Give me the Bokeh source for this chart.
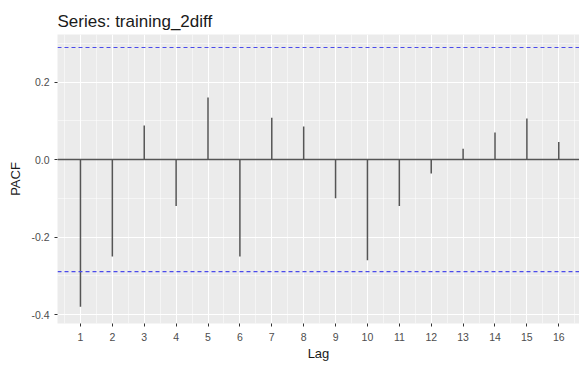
from bokeh.plotting import figure
from bokeh.models import Range1d, FixedTicker, Span
from bokeh.embed import file_html
from bokeh.resources import INLINE

lags = list(range(1, 17))
pacf = [-0.38, -0.25, 0.088, -0.12, 0.16, -0.25, 0.108, 0.085,
        -0.10, -0.26, -0.12, -0.036, 0.028, 0.07, 0.106, 0.045]
ci = 0.289
y_ticks = [-0.4, -0.2, 0.0, 0.2]
y_minor = [-0.3, -0.1, 0.1, 0.3]
x_minor = [x + 0.5 for x in range(0, 17)]

FONT = "Liberation Sans"

p = figure(width=579, height=365, output_backend="svg", toolbar_location=None,
           x_range=Range1d(0.28, 16.65), y_range=Range1d(-0.423, 0.3226),
           min_border_left=57, min_border_right=0, min_border_bottom=42,
           min_border_top=34)

p.title.text = "Series: training_2diff"
p.title.text_font = FONT
p.title.text_font_size = "17px"
p.title.text_font_style = "normal"
p.title.text_color = "#1a1a1a"
p.title.align = "left"
p.title.standoff = 8

p.background_fill_color = "#EBEBEB"
p.border_fill_color = "white"
p.outline_line_color = None

p.xaxis.ticker = FixedTicker(ticks=lags, minor_ticks=x_minor)
p.yaxis.ticker = FixedTicker(ticks=y_ticks, minor_ticks=y_minor)
p.yaxis.major_label_overrides = {-0.4: "-0.4", -0.2: "-0.2", 0.0: "0.0", 0.2: "0.2"}

for ax in (p.xaxis, p.yaxis):
    ax.axis_line_color = None
    ax.major_tick_line_color = "#333333"
    ax.major_tick_in = 0
    ax.major_tick_out = 3
    ax.minor_tick_line_color = None
    ax.major_label_text_font = FONT
    ax.major_label_text_font_size = "10.5px"
    ax.major_label_text_color = "#4D4D4D"
    ax.axis_label_text_font = FONT
    ax.axis_label_text_font_size = "13px"
    ax.axis_label_text_font_style = "normal"
    ax.axis_label_text_color = "#1a1a1a"

p.xaxis.axis_label = "Lag"
p.yaxis.axis_label = "PACF"
p.xaxis.major_label_standoff = 5
p.yaxis.major_label_standoff = 4
p.xaxis.axis_label_standoff = 2
p.yaxis.axis_label_standoff = 5

for g in (p.xgrid, p.ygrid):
    g.grid_line_color = "white"
    g.grid_line_width = 1.1
    g.minor_grid_line_color = "white"
    g.minor_grid_line_width = 0.5

p.segment(x0=lags, y0=[0] * len(lags), x1=lags, y1=pacf,
          line_color="#555555", line_width=1.5)

p.add_layout(Span(location=0, dimension="width", line_color="#555555", line_width=1.5))
for loc in (ci, -ci):
    p.add_layout(Span(location=loc, dimension="width", line_color="#4a4aeb",
                      line_width=1.2, line_dash="4 3"))

open("out.html", "w").write(file_html(p, INLINE))
